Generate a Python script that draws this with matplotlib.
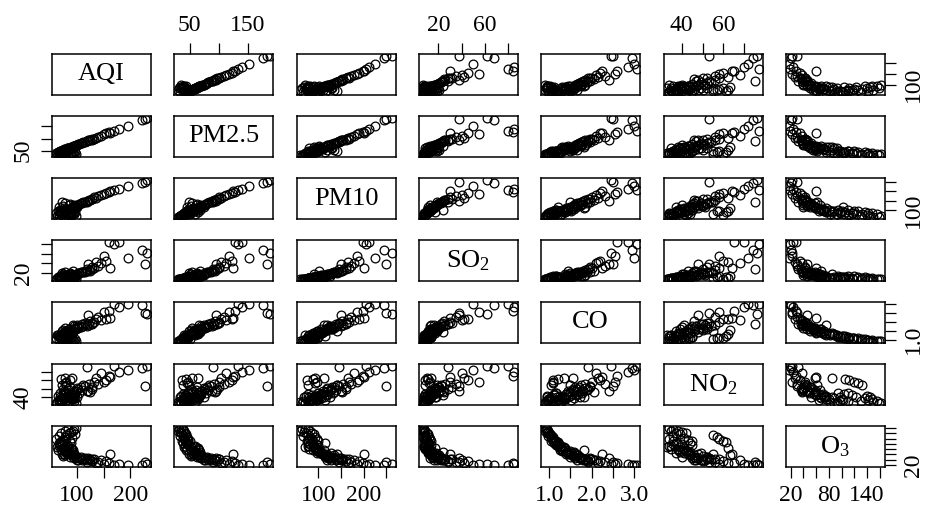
import matplotlib.pyplot as plt
import numpy as np

plt.rcParams['font.family'] = 'Liberation Serif'
plt.rcParams['mathtext.fontset'] = 'custom'
plt.rcParams['mathtext.rm'] = 'Liberation Serif'
plt.rcParams['mathtext.it'] = 'Liberation Serif:italic'

# clean days (high O3), moderate days, polluted days, extra ordinary days
aqi = [98, 84, 94, 78, 92, 88, 70, 85, 96, 80, 66, 78, 90, 80, 74, 86, 75, 70, 88, 68,
       72, 80, 66, 88, 62, 78, 92, 70, 84, 98, 75, 90, 82, 102, 86, 108, 80, 112, 94, 118,
       96, 122, 100, 128, 104, 115, 92, 132, 110, 125,
       232, 228, 222, 195, 178, 170, 160, 155, 150, 145, 140, 135, 128, 120, 162, 118,
       64, 70, 76, 82, 68, 74, 90, 86, 60, 79, 95, 71, 88, 66, 83, 77, 100, 93, 69, 85]
pm25 = [35, 32, 38, 30, 40, 34, 42, 36, 44, 38, 33, 45, 40, 47, 42, 37, 48, 44, 39, 46,
        48, 56, 42, 62, 40, 54, 66, 46, 60, 72, 52, 64, 58, 76, 62, 80, 56, 84, 68, 88,
        70, 92, 74, 96, 78, 86, 66, 100, 82, 94,
        187, 182, 176, 152, 140, 132, 128, 122, 118, 112, 108, 104, 100, 95, 125, 90,
        44, 50, 55, 60, 47, 52, 65, 62, 41, 58, 70, 49, 64, 45, 59, 54, 74, 68, 48, 61]
pm10 = [70, 64, 78, 60, 82, 68, 86, 72, 90, 76, 66, 92, 80, 96, 85, 74, 98, 88, 78, 94,
        82, 96, 76, 108, 70, 92, 115, 80, 104, 122, 88, 112, 100, 128, 106, 135, 96, 142, 118, 150,
        120, 155, 126, 160, 132, 145, 112, 168, 138, 152,
        262, 250, 244, 225, 212, 205, 198, 190, 185, 178, 172, 165, 160, 150, 200, 145,
        95, 78, 110, 92, 100, 120, 98, 130, 85, 105, 125, 140, 90, 115, 80, 135, 118, 102, 88, 128]
so2 = [7, 6.5, 8, 7, 9, 7.5, 10, 8, 11, 9, 7, 12, 9.5, 13, 10, 8.5, 14, 11, 9, 12,
       9, 11, 8, 13, 8, 10, 15, 9, 12, 17, 10, 14, 12, 19, 13, 21, 11, 22, 15, 24,
       16, 26, 18, 28, 20, 23, 14, 30, 22, 25,
       62, 38, 68, 50, 85, 80, 84, 45, 55, 40, 35, 42, 32, 38, 30, 28,
       12, 9, 16, 11, 14, 18, 10, 20, 8, 15, 13, 19, 17, 11, 9, 21, 16, 24, 12, 18]
co = [0.90, 0.92, 0.95, 0.90, 0.98, 0.94, 1.00, 0.96, 1.02, 1.05, 0.98, 1.08, 1.04, 1.10, 1.12, 1.08, 1.15, 1.20, 1.12, 1.22,
      1.15, 1.30, 1.20, 1.40, 1.25, 1.35, 1.50, 1.28, 1.45, 1.60, 1.38, 1.55, 1.48, 1.65, 1.58, 1.70, 1.52, 1.75, 1.62, 1.80,
      1.68, 1.85, 1.72, 1.90, 1.78, 1.95, 1.82, 2.00, 1.88, 2.05,
      2.45, 2.50, 2.95, 3.00, 2.85, 3.05, 2.60, 2.20, 2.55, 2.10, 2.30, 2.15, 1.95, 2.40, 2.25, 1.90,
      1.25, 1.05, 1.45, 1.35, 1.15, 1.55, 1.30, 1.60, 1.10, 1.40, 1.75, 1.50, 1.38, 1.20, 1.28, 1.65, 1.85, 1.45, 1.18, 1.58]
no2 = [34, 33, 36, 35, 38, 40, 37, 42, 39, 55, 36, 57, 41, 58, 43, 60, 45, 61, 44, 38,
       36, 40, 34, 44, 33, 62, 46, 35, 41, 48, 38, 63, 42, 50, 39, 52, 37, 54, 43, 47,
       44, 56, 40, 50, 45, 53, 41, 58, 49, 46,
       76, 53, 74, 72, 70, 77, 65, 60, 58, 68, 56, 62, 52, 48, 64, 75,
       42, 36, 48, 39, 45, 50, 38, 52, 34, 44, 47, 55, 41, 37, 35, 46, 51, 43, 40, 49]
o3 = [162, 158, 155, 150, 148, 145, 142, 140, 136, 132, 130, 126, 122, 120, 116, 112, 110, 106, 104, 100,
      98, 72, 92, 60, 88, 85, 50, 82, 66, 45, 76, 58, 72, 40, 68, 52, 65, 44, 60, 38,
      56, 42, 52, 36, 48, 46, 75, 42, 40, 38,
      22, 30, 20, 18, 24, 19, 28, 35, 22, 38, 30, 26, 42, 45, 60, 32,
      75, 110, 60, 88, 95, 55, 80, 50, 118, 70, 45, 62, 85, 102, 92, 58, 40, 68, 98, 66]

names = ['AQI', 'PM2.5', 'PM10', 'SO$_2$', 'CO', 'NO$_2$', 'O$_3$']
data = [aqi, pm25, pm10, so2, co, no2, o3]
ticks = [[100, 150, 200], [50, 100, 150], [100, 150, 200, 250], [20, 40, 60, 80],
         [1.0, 1.5, 2.0, 2.5, 3.0], [40, 50, 60, 70], [20, 40, 60, 80, 100, 120, 140, 160]]
xlabels = [['100', '', '200'], ['50', '', '150'], ['100', '', '200', ''], ['20', '', '60', ''],
           ['1.0', '', '2.0', '', '3.0'], ['40', '', '60', ''], ['20', '', '', '80', '', '', '140', '']]

fig = plt.figure(figsize=(9.28, 5.09), dpi=100)
W, H = 928.0, 509.0
n = len(data)

lims = []
for v in data:
    v = np.array(v, dtype=float)
    r = v.max() - v.min()
    lims.append((v.min() - 0.04 * r, v.max() + 0.04 * r))

for i in range(n):
    for j in range(n):
        x0 = 52 + j * 122.3
        y0 = 54 + i * 62
        ax = fig.add_axes([x0 / W, 1 - (y0 + 41) / H, 99 / W, 41 / H])
        ax.set_xlim(lims[j])
        ax.set_ylim(lims[i])
        if i == j:
            ax.text(0.5, 0.5, names[i], transform=ax.transAxes, ha='center', va='center', fontsize=19)
        else:
            ax.plot(data[j], data[i], 'o', mfc='none', mec='black', ms=6.3, mew=0.9)
        for s in ax.spines.values():
            s.set_linewidth(1.1)
        ax.set_xticks([])
        ax.set_yticks([])
        ax.tick_params(direction='out', length=8, width=0.9, pad=5, labelsize=17)
        if i == 0 and j % 2 == 1:
            ax.set_xticks(ticks[j])
            ax.set_xticklabels(xlabels[j])
            ax.tick_params(axis='x', top=True, labeltop=True, bottom=False, labelbottom=False)
        if i == n - 1 and j % 2 == 0:
            ax.set_xticks(ticks[j])
            ax.set_xticklabels(xlabels[j])
        if j == 0 and i % 2 == 1:
            ax.set_yticks(ticks[i])
            ax.set_yticklabels([xlabels[i][0]] + [''] * (len(ticks[i]) - 1), rotation=90, va='center')
        if j == n - 1 and i % 2 == 0:
            ax.set_yticks(ticks[i])
            ax.set_yticklabels([xlabels[i][0]] + [''] * (len(ticks[i]) - 1), rotation=90, va='center')
            ax.tick_params(axis='y', right=True, labelright=True, left=False, labelleft=False)

fig.savefig('out.png', dpi=100)
